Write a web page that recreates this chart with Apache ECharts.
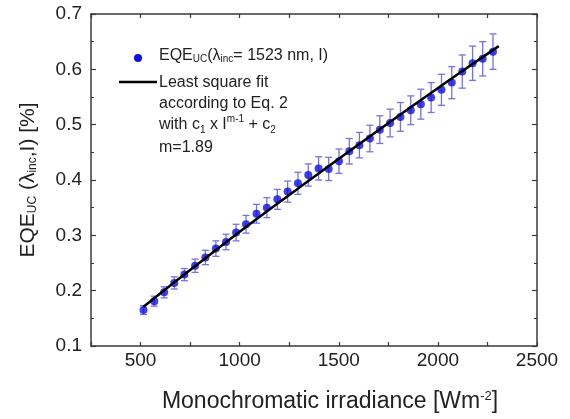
<!DOCTYPE html>
<html>
<head>
<meta charset="utf-8">
<script src="https://cdn.jsdelivr.net/npm/echarts@6/dist/echarts.min.js"></script>
<style>
html,body{margin:0;padding:0;background:#fff;}
#chart{width:570px;height:419px;}
</style>
</head>
<body>
<div id="chart"></div>
<script>
// Irradiance values [W m^-2]
const irradiance = [515, 569, 619, 670, 721, 775, 827, 880, 931, 982, 1032, 1085, 1137, 1190, 1242, 1294, 1346, 1398, 1449, 1501, 1553, 1604, 1657, 1707, 1759, 1811, 1863, 1914, 1966, 2018, 2070, 2123, 2175, 2226, 2278];
// EQE_UC [%]
const eqe = [0.165, 0.181, 0.197, 0.214, 0.229, 0.245, 0.260, 0.276, 0.288, 0.305, 0.320, 0.339, 0.350, 0.365, 0.379, 0.394, 0.409, 0.421, 0.420, 0.434, 0.452, 0.463, 0.475, 0.491, 0.503, 0.514, 0.526, 0.537, 0.549, 0.563, 0.576, 0.596, 0.611, 0.619, 0.632];
// Error bar half-lengths [%]
const eqeErr = [0.008, 0.009, 0.010, 0.011, 0.011, 0.012, 0.013, 0.014, 0.014, 0.015, 0.016, 0.017, 0.018, 0.018, 0.019, 0.020, 0.020, 0.021, 0.021, 0.022, 0.023, 0.023, 0.024, 0.025, 0.025, 0.026, 0.026, 0.027, 0.027, 0.028, 0.029, 0.030, 0.031, 0.031, 0.032];
// Least square fit curve
const fitX = [515, 900, 1300, 1700, 2100, 2307];
const fitY = [0.171, 0.279, 0.386, 0.490, 0.591, 0.642];
// Axis ticks
const xTickLabels = [500, 1000, 1500, 2000, 2500];
const yTickLabels = ['0.1', '0.2', '0.3', '0.4', '0.5', '0.6', '0.7'];

const FONT = 'Liberation Sans, Arial, sans-serif';
const AXC = '#3a3a3a';
const ERRC = '#7373e2';
const PTC = '#1010e6';

const scatterData = irradiance.map((x, i) => [x, eqe[i]]);
const errData = irradiance.map((x, i) => [x, eqe[i] - eqeErr[i], eqe[i] + eqeErr[i]]);
const fitData = fitX.map((x, i) => [x, fitY[i]]);

const subStyle = {fontSize: 10, fontFamily: FONT, color: '#222', verticalAlign: 'bottom', lineHeight: 10};
const supStyle = {fontSize: 10, fontFamily: FONT, color: '#222', verticalAlign: 'top', lineHeight: 10};

const chart = echarts.init(document.getElementById('chart'), null, {renderer: 'canvas'});

const xCommon = {
  type: 'value', min: 250, max: 2500, interval: 250,
  axisLine: {show: true, onZero: false, lineStyle: {color: AXC, width: 1.5}},
  axisTick: {show: true, inside: true, length: 4, lineStyle: {color: AXC, width: 1.2}},
  splitLine: {show: false}
};
const yCommon = {
  type: 'value', min: 0.1, max: 0.7, interval: 0.1,
  axisLine: {show: true, onZero: false, lineStyle: {color: AXC, width: 1.5}},
  axisTick: {show: true, inside: true, length: 5, lineStyle: {color: AXC, width: 1.2}},
  minorTick: {show: true, splitNumber: 2, length: 3, lineStyle: {color: AXC, width: 1}},
  splitLine: {show: false}
};

chart.setOption({
  animation: false,
  backgroundColor: '#fff',
  grid: {left: 91, right: 33, top: 14, bottom: 73, containLabel: false},
  xAxis: [
    Object.assign({}, xCommon, {
      position: 'bottom',
      axisLabel: {
        show: true, margin: 5, fontSize: 19, fontFamily: FONT, color: '#222',
        formatter: v => (xTickLabels.indexOf(v) >= 0 ? String(v) : '')
      },
      name: 'Monochromatic irradiance [Wm{sup|-2}]',
      nameLocation: 'middle', nameGap: 44,
      nameTextStyle: {fontSize: 23, fontFamily: FONT, color: '#222', padding: [0, 0, 0, 32],
        rich: {sup: {fontSize: 13, fontFamily: FONT, color: '#222', verticalAlign: 'top', lineHeight: 12}}}
    }),
    Object.assign({}, xCommon, {position: 'top', axisLabel: {show: false}})
  ],
  yAxis: [
    Object.assign({}, yCommon, {
      position: 'left',
      axisLabel: {show: true, margin: 9, fontSize: 19, fontFamily: FONT, color: '#222',
        formatter: v => { const s = v.toFixed(1); return yTickLabels.indexOf(s) >= 0 ? s : ''; }},
      name: 'EQE{sub|UC} (λ{sub|inc},I) [%]',
      nameLocation: 'middle', nameGap: 52, nameRotate: 90,
      nameTextStyle: {fontSize: 21, fontFamily: FONT, color: '#222',
        rich: {sub: {fontSize: 12, fontFamily: FONT, color: '#222', verticalAlign: 'bottom', lineHeight: 12}}}
    }),
    Object.assign({}, yCommon, {position: 'right', axisLabel: {show: false}})
  ],
  series: [
    {
      type: 'custom', xAxisIndex: 0, yAxisIndex: 0, z: 2,
      data: errData,
      renderItem: (params, api) => {
        const x = api.value(0);
        const pHi = api.coord([x, api.value(2)]);
        const pLo = api.coord([x, api.value(1)]);
        const w = 3.5;
        const st = {stroke: ERRC, lineWidth: 1.3};
        return {type: 'group', children: [
          {type: 'line', shape: {x1: pHi[0], y1: pHi[1], x2: pLo[0], y2: pLo[1]}, style: st},
          {type: 'line', shape: {x1: pHi[0] - w, y1: pHi[1], x2: pHi[0] + w, y2: pHi[1]}, style: st},
          {type: 'line', shape: {x1: pLo[0] - w, y1: pLo[1], x2: pLo[0] + w, y2: pLo[1]}, style: st}
        ]};
      }
    },
    {
      type: 'scatter', xAxisIndex: 0, yAxisIndex: 0, z: 3,
      data: scatterData, symbol: 'circle', symbolSize: 8,
      itemStyle: {color: PTC}
    },
    {
      type: 'line', xAxisIndex: 0, yAxisIndex: 0, z: 4,
      data: fitData, smooth: true, symbol: 'none',
      lineStyle: {color: '#000', width: 2.5}
    }
  ],
  graphic: [
    {type: 'circle', shape: {cx: 138, cy: 58, r: 4}, style: {fill: PTC}, z: 10},
    {type: 'line', shape: {x1: 119, y1: 82, x2: 157, y2: 82}, style: {stroke: '#000', lineWidth: 2.5}, z: 10},
    {type: 'text', left: 159, top: 48, z: 10,
      style: {text: 'EQE{sub|UC}(λ{sub|inc}= 1523 nm, I)', fontSize: 16, fontFamily: FONT, fill: '#222',
        rich: {sub: subStyle}}},
    {type: 'text', left: 159, top: 72, z: 10,
      style: {text: 'Least square fit\naccording to Eq. 2\nwith c{sub|1} x I{sup|m-1} + c{sub|2}', fontSize: 16, fontFamily: FONT, fill: '#222',
        lineHeight: 21, rich: {sub: Object.assign({}, subStyle, {lineHeight: 8}), sup: supStyle}}},
    {type: 'text', left: 159, top: 140, z: 10,
      style: {text: 'm=1.89', fontSize: 16, fontFamily: FONT, fill: '#222'}}
  ]
});
</script>
</body>
</html>
